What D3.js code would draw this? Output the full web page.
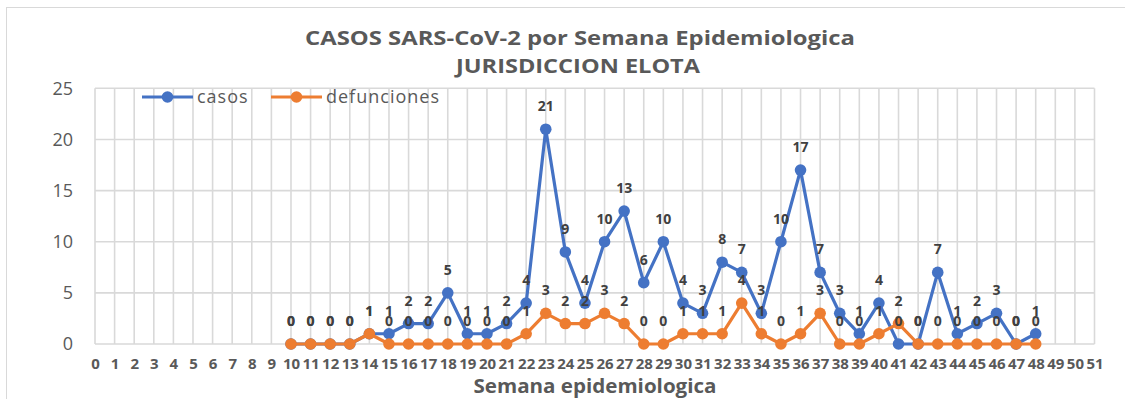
<!DOCTYPE html>
<html>
<head>
<meta charset="utf-8">
<script src="https://cdn.jsdelivr.net/npm/d3@7"></script>
<style>
  html, body { margin: 0; padding: 0; background: #fff; }
  svg { display: block; }
</style>
</head>
<body>
<svg id="chart" width="1125" height="399"></svg>
<script>
// Epidemiological weeks shown on the category axis
const weeks = d3.range(0, 52);
// Weeks that carry data
const dataWeeks = d3.range(10, 49);
// Confirmed cases per week (weeks 10–48)
const casos = [0, 0, 0, 0, 1, 1, 2, 2, 5, 1, 1, 2, 4, 21, 9, 4, 10, 13, 6, 10,
               4, 3, 8, 7, 3, 10, 17, 7, 3, 1, 4, 0, 0, 7, 1, 2, 3, 0, 1];
// Deaths per week (weeks 10–48)
const defunciones = [0, 0, 0, 0, 1, 0, 0, 0, 0, 0, 0, 0, 1, 3, 2, 2, 3, 2, 0, 0,
                     1, 1, 1, 4, 1, 0, 1, 3, 0, 0, 1, 2, 0, 0, 0, 0, 0, 0, 0];
// Value axis ticks
const yTicks = [0, 5, 10, 15, 20, 25];

const titleLines = ["CASOS SARS-CoV-2 por Semana Epidemiologica", "JURISDICCION ELOTA"];
const xTitle = "Semana epidemiologica";

const series = [
  { name: "casos", values: casos, color: "#4472C4" },
  { name: "defunciones", values: defunciones, color: "#ED7D31" }
];

const svg = d3.select("#chart");
const font = "'Open Sans', 'Liberation Sans', sans-serif";
const gray = "#595959";

// Outer chart frame
svg.append("rect")
  .attr("x", 6.5).attr("y", 7.5)
  .attr("width", 1130).attr("height", 400)
  .attr("fill", "#fff").attr("stroke", "#d9d9d9").attr("stroke-width", 1);

const x = d3.scalePoint().domain(weeks).range([95, 1094.5]);
const y = d3.scaleLinear().domain([0, 25]).range([344, 88.3]);

// Gridlines
const grid = svg.append("g").attr("stroke", "#d9d9d9").attr("stroke-width", 1.6);
grid.selectAll("line.v").data(weeks).join("line")
  .attr("class", "v")
  .attr("x1", d => x(d)).attr("x2", d => x(d))
  .attr("y1", y(25)).attr("y2", y(0));
grid.selectAll("line.h").data(yTicks).join("line")
  .attr("class", "h")
  .attr("x1", x(0)).attr("x2", x(51))
  .attr("y1", d => y(d)).attr("y2", d => y(d));

// Y axis labels
const yAxis = svg.append("g")
  .attr("transform", `translate(73,0)`)
  .call(d3.axisLeft(y).tickValues(yTicks).tickSize(0).tickPadding(0));
yAxis.select(".domain").remove();
yAxis.selectAll("text")
  .attr("font-family", font).attr("font-size", 18).attr("fill", gray);

// X axis labels
const xAxis = svg.append("g")
  .attr("transform", `translate(0,${y(0) + 14})`)
  .call(d3.axisBottom(x).tickSize(0).tickPadding(0));
xAxis.select(".domain").remove();
xAxis.selectAll("text")
  .attr("font-family", font).attr("font-size", 15).attr("font-weight", "bold")
  .attr("fill", gray);

// Lines and markers
const line = d3.line().x(d => x(d.week)).y(d => y(d.value));
series.forEach(s => {
  const pts = dataWeeks.map((w, i) => ({ week: w, value: s.values[i] }));
  const g = svg.append("g");
  g.append("path")
    .datum(pts)
    .attr("d", line)
    .attr("fill", "none")
    .attr("stroke", s.color)
    .attr("stroke-width", 3.2)
    .attr("stroke-linejoin", "round");
  g.selectAll("circle").data(pts).join("circle")
    .attr("cx", d => x(d.week)).attr("cy", d => y(d.value))
    .attr("r", 5.8).attr("fill", s.color);
  s.pts = pts;
});

// Data labels
series.forEach(s => {
  svg.append("g").selectAll("text").data(s.pts).join("text")
    .attr("x", d => x(d.week))
    .attr("y", d => y(d.value) - 18)
    .attr("text-anchor", "middle")
    .attr("font-family", font).attr("font-size", 14).attr("font-weight", "bold")
    .attr("fill", "#404040")
    .text(d => d.value);
});

// Title
svg.append("text")
  .attr("x", 580).attr("y", 45)
  .attr("text-anchor", "middle")
  .attr("font-family", font).attr("font-size", 20).attr("font-weight", "bold")
  .attr("fill", gray)
  .attr("textLength", 550).attr("lengthAdjust", "spacingAndGlyphs")
  .text(titleLines[0]);
svg.append("text")
  .attr("x", 578).attr("y", 73)
  .attr("text-anchor", "middle")
  .attr("font-family", font).attr("font-size", 20).attr("font-weight", "bold")
  .attr("fill", gray)
  .attr("textLength", 244).attr("lengthAdjust", "spacingAndGlyphs")
  .text(titleLines[1]);

// X axis title
svg.append("text")
  .attr("x", 595).attr("y", 393)
  .attr("text-anchor", "middle")
  .attr("font-family", font).attr("font-size", 20).attr("font-weight", "bold")
  .attr("fill", gray)
  .attr("textLength", 243).attr("lengthAdjust", "spacingAndGlyphs")
  .text(xTitle);

// Legend
const legendItems = [
  { s: series[0], x0: 142 },
  { s: series[1], x0: 271 }
];
const legend = svg.append("g");
legendItems.forEach(it => {
  const ly = 97;
  legend.append("line")
    .attr("x1", it.x0).attr("x2", it.x0 + 51)
    .attr("y1", ly).attr("y2", ly)
    .attr("stroke", it.s.color).attr("stroke-width", 3.2);
  legend.append("circle")
    .attr("cx", it.x0 + 25.5).attr("cy", ly).attr("r", 5.8).attr("fill", it.s.color);
  legend.append("text")
    .attr("x", it.x0 + 55).attr("y", ly + 6)
    .attr("font-family", font).attr("font-size", 18).attr("fill", gray)
    .attr("letter-spacing", "1px")
    .text(it.s.name);
});
</script>
</body>
</html>
